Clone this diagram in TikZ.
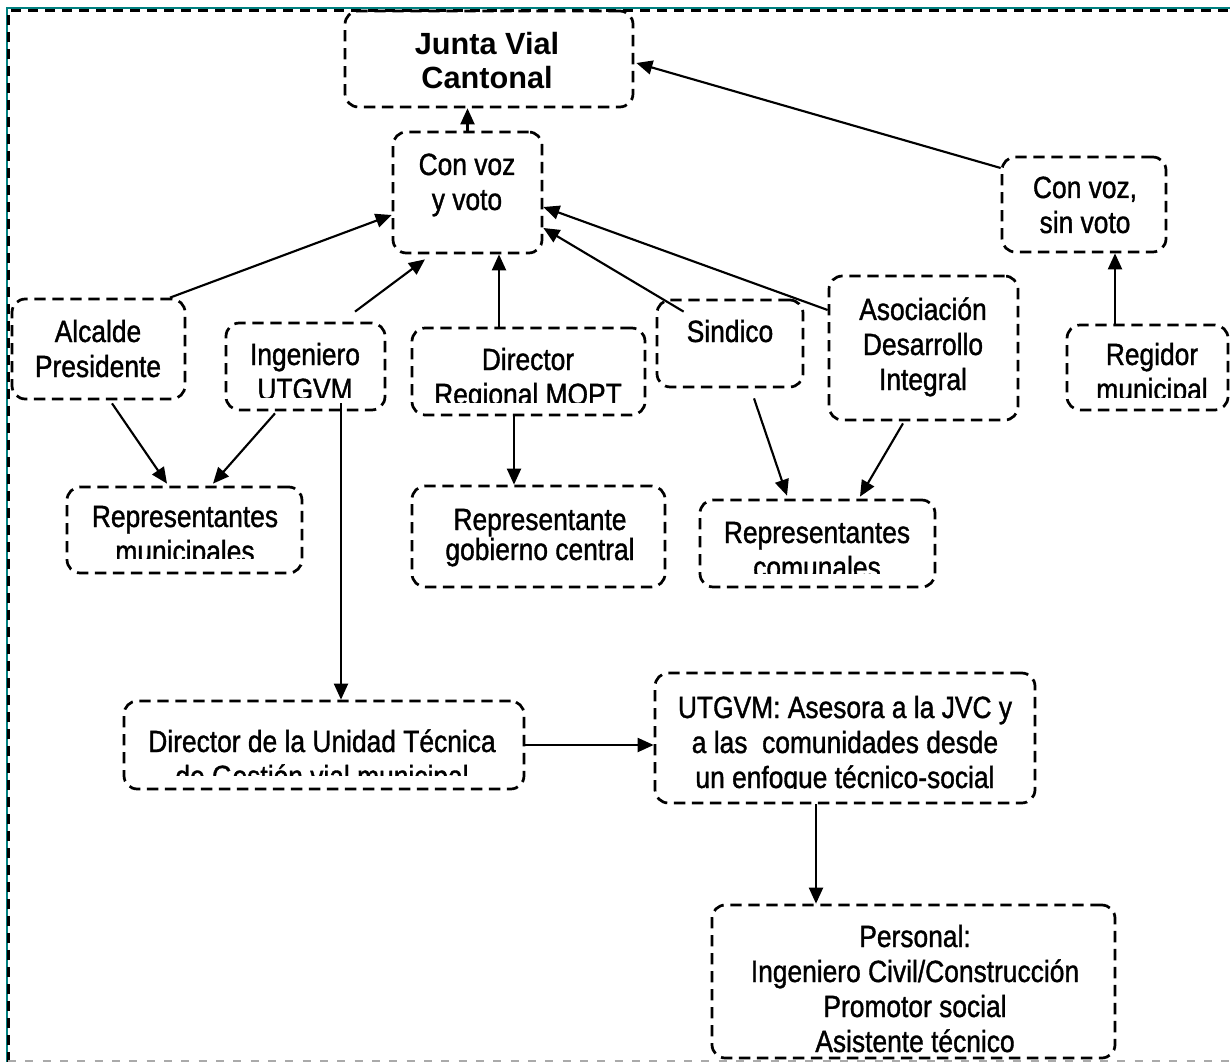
\documentclass[tikz,border=0pt]{standalone}
\usepackage{fontspec}
\setmainfont{Liberation Sans}[FakeStretch=0.86,FakeBold=1.2]
\newfontfamily\jfont{Liberation Sans}
\usetikzlibrary{arrows.meta,calc,fit}
\definecolor{frameteal}{RGB}{0,128,128}
\definecolor{framegrey}{RGB}{170,170,170}
\tikzset{
  boxst/.style={draw=black, line width=2.05pt, dash pattern=on 8.5pt off 5pt, rounded corners=10pt, inner sep=0pt},
  lbl/.style={inner sep=0pt, anchor=base, font=\fontsize{23}{26}\selectfont},
  conn/.style={line width=1.6pt, -{Triangle[length=12pt,width=10.5pt]}},
}
\newcommand\mkbox[5]{\node[boxst, fit={(#2,#3) (#4,#5)}] (#1) {};}
\newcommand\mktext[5]{%
  \foreach \tline [count=\i] in {#5} {\node[lbl] (#1-\i) at (#2, {#3+(\i-1)*#4}) {\tline};}}

\begin{document}
\begin{tikzpicture}[x=0.75pt,y=-0.75pt]
\useasboundingbox (0,0) rectangle (1230,1062);
% outer frame
\draw[frameteal, line width=1.4pt] (7,1062) -- (7,8) -- (1230,8);
\draw[black, line width=1.9pt, dash pattern=on 7.5pt off 5.25pt] (8.5,1062) -- (8.5,10.5) -- (1230,10.5);
\draw[framegrey, line width=1.1pt, dash pattern=on 6pt off 7pt] (8,1061) -- (1230,1061);

% boxes
\mkbox{junta}{345}{11}{633}{107}
\mkbox{cvv}{393}{132}{542}{253}
\mkbox{cvs}{1002}{157}{1166}{252}
\mkbox{alc}{12}{299}{185}{399}
\mkbox{ing}{226}{323}{385}{410}
\mkbox{mopt}{412}{328}{645}{415}
\mkbox{sind}{657}{300}{803}{387}
\mkbox{asoc}{829}{276}{1018}{420}
\mkbox{reg}{1067}{325}{1228}{410}
\mkbox{rmun}{67}{487}{302}{573}
\mkbox{rgob}{412}{486}{665}{587}
\mkbox{rcom}{700}{500}{935}{587}
\mkbox{dir}{124}{701}{524}{789}
\mkbox{utg}{655}{673}{1035}{803}
\mkbox{pers}{712}{905}{1115}{1058}

% texts
\node[lbl, font=\jfont\bfseries\fontsize{23}{26}\selectfont] (junta-1) at (487,55) {Junta Vial};
\node[lbl, font=\jfont\bfseries\fontsize{23}{26}\selectfont] (junta-2) at (487,89) {Cantonal};
\mktext{cvv-t}{467}{175}{35}{Con voz, y voto}
\mktext{cvs-t}{1085}{198}{35}{{Con voz,}, sin voto}
\mktext{alc-t}{98}{342}{35}{Alcalde, Presidente}
\begin{scope}
  \clip (226,323) rectangle (385,397);
  \mktext{ing-t}{305}{365}{35}{Ingeniero, UTGVM}
\end{scope}
\begin{scope}
  \clip (412,328) rectangle (645,402);
  \mktext{mopt-t}{528}{370}{35}{Director, Regional MOPT}
\end{scope}
\mktext{sind-t}{730}{342}{35}{Sindico}
\mktext{asoc-t}{923}{320}{35}{Asociación, Desarrollo, Integral}
\begin{scope}
  \clip (1067,325) rectangle (1228,397);
  \mktext{reg-t}{1152}{365}{35}{Regidor, municipal}
\end{scope}
\begin{scope}
  \clip (67,487) rectangle (302,558);
  \mktext{rmun-t}{185}{527}{35}{Representantes, municipales}
\end{scope}
\mktext{rgob-t}{540}{530}{30}{Representante, gobierno central}
\begin{scope}
  \clip (700,500) rectangle (935,573);
  \mktext{rcom-t}{817}{543}{35}{Representantes, comunales}
\end{scope}
\begin{scope}
  \clip (124,701) rectangle (524,775);
  \mktext{dir-t}{322}{752}{35}{Director de la Unidad Técnica, de Gestión vial municipal}
\end{scope}
\begin{scope}
  \clip (655,673) rectangle (1035,788);
  \mktext{utg-t}{845}{718}{35}{UTGVM: Asesora a la JVC y, a las\ \ comunidades desde, un enfoque técnico-social}
\end{scope}
\mktext{pers-t}{915}{947}{35}{Personal:, Ingeniero Civil/Construcción, Promotor social, Asistente técnico}

% connectors
\coordinate (m1) at ($(mopt.north)+(-29.5,0)$);
\coordinate (r1) at ($(reg.north)+(-32.5,0)$);
\coordinate (i1) at ($(ing.south)+(35.5,-8)$);
\coordinate (m2) at ($(mopt.south)+(-14.5,0)$);
\coordinate (u1) at ($(utg.south)+(-29,0)$);
\draw[conn] (cvv.north) -- (cvv.north |- junta.south);
\draw[conn] ($(cvs.west)+(0,-36.5)$) -- ($(junta.east)+(2,4)$);
\draw[conn] ($(alc.north)+(71.5,0)$) -- ($(cvv.west)+(0,22.5)$);
\draw[conn] ($(ing.north)+(49.5,-10)$) -- ($(cvv.south)+(-42.5,5)$);
\draw[conn] (m1) -- (m1 |- cvv.south);
\draw[conn] ($(sind.north west)+(28,13)$) -- ($(cvv.east)+(0,35.5)$);
\draw[conn] ($(asoc.west)+(0,-38)$) -- ($(cvv.east)+(0,14.5)$);
\draw[conn] (r1) -- (r1 |- cvs.south);
\draw[conn] ($(alc.south)+(13.5,3)$) -- ($(rmun.north)+(-17.5,-2)$);
\draw[conn] ($(ing.south)+(-30.5,2)$) -- ($(rmun.north)+(28.5,-2)$);
\draw[conn] (i1) -- (i1 |- dir.north);
\draw[conn] (m2) -- (m2 |- rgob.north);
\draw[conn] ($(sind.south)+(24,10)$) -- ($(rcom.north)+(-30.5,-3)$);
\draw[conn] ($(asoc.south)+(-20.5,2)$) -- ($(rcom.north)+(42.5,-2)$);
\draw[conn] (dir.east) -- (dir.east -| utg.west);
\draw[conn] (u1) -- (u1 |- pers.north);
\end{tikzpicture}
\end{document}
